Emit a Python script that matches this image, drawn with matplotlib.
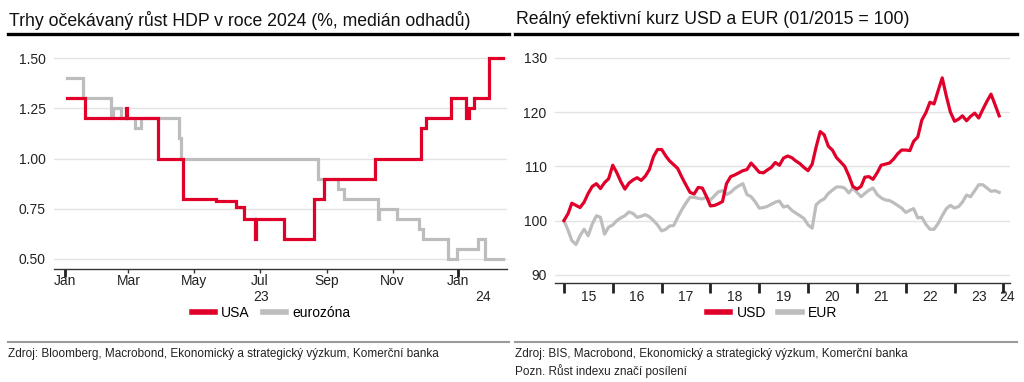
import matplotlib
matplotlib.use("Agg")
import matplotlib.pyplot as plt
import numpy as np
import pandas as pd
from matplotlib.lines import Line2D

plt.rcParams['font.family'] = ['Liberation Sans', 'DejaVu Sans']

RED = '#E0002A'
GRAY = '#BDBDBD'

# ---------------- Left chart data (step changes) ----------------
usa_dates = ['2023-01-03', '2023-01-20', '2023-02-27', '2023-02-28', '2023-03-28',
             '2023-04-21', '2023-05-21', '2023-06-09', '2023-06-16', '2023-06-26',
             '2023-06-27', '2023-07-23', '2023-08-20', '2023-08-29', '2023-10-16',
             '2023-11-27', '2023-12-02', '2023-12-25', '2024-01-08', '2024-01-11',
             '2024-01-15', '2024-01-29', '2024-02-11']
usa_values = [1.30, 1.20, 1.25, 1.20, 1.00,
              0.80, 0.79, 0.76, 0.70, 0.60,
              0.70, 0.60, 0.80, 0.90, 1.00,
              1.15, 1.20, 1.30, 1.20, 1.25,
              1.30, 1.50, 1.50]

ez_dates = ['2023-01-03', '2023-01-18', '2023-02-13', '2023-02-15', '2023-02-22',
            '2023-03-07', '2023-03-13', '2023-04-17', '2023-04-19', '2023-08-24',
            '2023-09-11', '2023-09-17', '2023-10-18', '2023-10-19', '2023-11-05',
            '2023-11-25', '2023-11-29', '2023-12-22', '2023-12-31', '2024-01-19',
            '2024-01-26', '2024-02-11']
ez_values = [1.40, 1.30, 1.20, 1.25, 1.20,
             1.15, 1.20, 1.10, 1.00, 0.90,
             0.85, 0.80, 0.70, 0.75, 0.70,
             0.65, 0.60, 0.50, 0.55, 0.60,
             0.50, 0.50]

left_yticks = [0.50, 0.75, 1.00, 1.25, 1.50]
left_month_ticks = ['2023-01-01', '2023-03-01', '2023-05-01', '2023-07-01',
                    '2023-09-01', '2023-11-01', '2024-01-01']
left_month_labels = ['Jan', 'Mar', 'May', 'Jul', 'Sep', 'Nov', 'Jan']
left_years = [2023, 2024]
left_year_labels = ['23', '24']

# ---------------- Right chart data (monthly, Jan 2015 - Dec 2023) ----------------
usd = [100.0, 101.3, 103.2, 102.8, 102.4, 103.4, 105.0, 106.3, 106.8, 105.9, 107.0, 107.7,
       110.2, 108.8, 107.2, 105.8, 106.9, 107.5, 107.9, 107.4, 108.2, 109.4, 111.8, 113.1,
       113.1, 111.9, 111.0, 110.3, 109.6, 108.0, 106.6, 105.2, 104.9, 106.1, 106.0, 104.5,
       102.7, 102.8, 103.1, 103.5, 106.8, 108.1, 108.4, 108.8, 109.2, 109.4, 110.6, 109.8,
       108.9, 108.8, 109.3, 109.8, 110.7, 110.2, 111.5, 111.9, 111.6, 111.0, 110.5, 109.8,
       109.2, 110.4, 113.5, 116.4, 115.8, 113.7, 113.0, 111.6, 110.8, 110.0, 108.3, 106.3,
       105.8, 106.3, 108.0, 108.1, 107.6, 108.8, 110.2, 110.4, 110.6, 111.3, 112.3, 113.0,
       113.0, 112.9, 114.6, 115.4, 118.5, 119.9, 121.8, 121.5, 124.0, 126.3, 122.9, 120.0,
       118.3, 118.7, 119.3, 118.4, 119.2, 119.8, 118.9, 120.5, 122.0, 123.3, 121.3, 119.3]
eur = [100.0, 98.2, 96.3, 95.6, 97.2, 98.4, 97.2, 99.4, 100.9, 100.6, 97.5, 98.8,
       99.2, 100.0, 100.5, 100.9, 101.6, 101.3, 100.6, 100.8, 101.1, 100.7, 100.0, 99.2,
       98.1, 98.4, 99.0, 99.1, 100.6, 102.0, 103.2, 104.3, 104.3, 104.1, 104.0, 104.3,
       103.8, 104.6, 105.3, 105.5, 104.8, 105.2, 105.9, 106.4, 106.8, 104.8, 104.4, 103.5,
       102.3, 102.4, 102.6, 103.0, 103.4, 103.6, 102.5, 102.7, 101.9, 101.4, 100.9, 100.4,
       99.2, 98.6, 102.9, 103.6, 104.0, 105.0, 105.6, 106.2, 106.2, 106.0, 105.1, 106.0,
       105.2, 104.4, 105.0, 105.6, 106.0, 104.8, 104.2, 103.8, 103.7, 103.3, 102.8, 102.3,
       101.5, 101.9, 102.2, 100.5, 100.6, 99.3, 98.4, 98.4, 99.5, 100.9, 102.2, 102.8,
       102.3, 102.6, 103.4, 104.7, 104.4, 105.5, 106.6, 106.6, 106.0, 105.4, 105.5, 105.2]
right_start = '2015-01-01'
right_yticks = [90, 100, 110, 120, 130]
right_years = list(range(2015, 2025))
right_year_labels = ['15', '16', '17', '18', '19', '20', '21', '22', '23', '24']

# ---------------- Figure ----------------
fig = plt.figure(figsize=(10.24, 3.82), dpi=100)
W, H = 1024, 382

def fx(px):
    return px / W

def fy(py):
    return 1 - py / H

TICK_FS = 10
TXT = '#222222'

# Titles
fig.text(fx(9), fy(20), 'Trhy očekávaný růst HDP v roce 2024 (%, medián odhadů)',
         fontsize=12.7, va='center', ha='left', color='#111111')
fig.text(fx(516), fy(20), 'Reálný efektivní kurz USD a EUR (01/2015 = 100)',
         fontsize=12.7, va='center', ha='left', color='#111111')
# title rules and footer rules
fig.add_artist(Line2D([fx(8), fx(509)], [fy(34), fy(34)], color='black', lw=2.4))
fig.add_artist(Line2D([fx(515), fx(1017)], [fy(34), fy(34)], color='black', lw=2.4))
fig.add_artist(Line2D([fx(8), fx(509)], [fy(342), fy(342)], color='#9a9a9a', lw=1.5))
fig.add_artist(Line2D([fx(515), fx(1017)], [fy(342), fy(342)], color='#9a9a9a', lw=1.5))

fig.text(fx(8), fy(354), 'Zdroj: Bloomberg, Macrobond, Ekonomický a strategický výzkum, Komerční banka',
         fontsize=8.5, va='center', ha='left', color=TXT)
fig.text(fx(515), fy(354), 'Zdroj: BIS, Macrobond, Ekonomický a strategický výzkum, Komerční banka',
         fontsize=8.5, va='center', ha='left', color=TXT)
fig.text(fx(515), fy(371), 'Pozn. Růst indexu značí posílení',
         fontsize=8.5, va='center', ha='left', color=TXT)

def style_axes(ax):
    for s in ['left', 'right', 'top']:
        ax.spines[s].set_visible(False)
    ax.spines['bottom'].set_color('#333333')
    ax.spines['bottom'].set_linewidth(1.0)
    ax.grid(axis='y', color='#e3e3e3', lw=1.0)
    ax.set_axisbelow(True)
    ax.tick_params(axis='y', length=0, labelsize=TICK_FS, colors=TXT, pad=6)

# ---------------- Left axes ----------------
axL = fig.add_axes([fx(54), fy(269), fx(507 - 54), (269 - 48) / H])
style_axes(axL)
ud = pd.to_datetime(usa_dates)
ed = pd.to_datetime(ez_dates)
axL.plot(ed, ez_values, color=GRAY, lw=2.3, drawstyle='steps-post', solid_joinstyle='miter')
axL.plot(ud, usa_values, color=RED, lw=2.3, drawstyle='steps-post', solid_joinstyle='miter')
axL.set_ylim(0.45, 1.55)
axL.set_yticks(left_yticks)
axL.set_yticklabels([f'{v:.2f}' for v in left_yticks])
xl0, xl1 = pd.Timestamp('2022-12-22'), pd.Timestamp('2024-02-15')
axL.set_xlim(xl0, xl1)
axL.set_xticks(pd.to_datetime(left_month_ticks))
axL.set_xticklabels(left_month_labels)
axL.xaxis.remove_overlapping_locs = False
axL.set_xticks(pd.to_datetime([f'{y}-01-01' for y in left_years]), minor=True)
axL.tick_params(axis='x', which='major', length=3, width=1, colors='#333333',
                labelcolor=TXT, labelsize=TICK_FS, pad=0.5)
axL.tick_params(axis='x', which='minor', length=6, width=2, colors='#222222')
for y, lab in zip(left_years, left_year_labels):
    a = pd.Timestamp(f'{y}-01-01')
    b = min(pd.Timestamp(f'{y}-12-31'), xl1)
    mid = a + (b - a) / 2
    axL.text(mid, -0.128, lab, transform=axL.get_xaxis_transform(), ha='center',
             va='center', fontsize=TICK_FS, color=TXT)

hL = [Line2D([], [], color=RED, lw=4), Line2D([], [], color=GRAY, lw=4)]
fig.legend(hL, ['USA', 'eurozóna'], loc='center', bbox_to_anchor=(fx(271), fy(313)),
           ncol=2, frameon=False, fontsize=10, handlelength=1.7, handletextpad=0.45,
           columnspacing=0.9, borderaxespad=0)

# ---------------- Right axes ----------------
axR = fig.add_axes([fx(555), fy(283), fx(1010 - 555), (283 - 48) / H])
style_axes(axR)
rd = pd.date_range(right_start, periods=len(usd), freq='MS')
axR.plot(rd, eur, color=GRAY, lw=2.3)
axR.plot(rd, usd, color=RED, lw=2.3)
axR.set_ylim(88.5, 131.8)
axR.set_yticks(right_yticks)
axR.set_yticklabels([str(v) for v in right_yticks])
xr0, xr1 = pd.Timestamp('2014-10-26'), pd.Timestamp('2024-02-20')
axR.set_xlim(xr0, xr1)
axR.set_xticks(pd.to_datetime([f'{y}-01-01' for y in right_years]))
axR.set_xticklabels([])
mids = []
for y in right_years:
    a = pd.Timestamp(f'{y}-01-01')
    b = min(pd.Timestamp(f'{y}-12-31'), xr1)
    mids.append(a + (b - a) / 2)
axR.set_xticks(mids, minor=True)
axR.set_xticklabels(right_year_labels, minor=True)
axR.tick_params(axis='x', which='major', length=7, width=2, colors='#222222')
axR.tick_params(axis='x', which='minor', length=0, labelsize=TICK_FS, labelcolor=TXT, pad=5)

hR = [Line2D([], [], color=RED, lw=4), Line2D([], [], color=GRAY, lw=4)]
fig.legend(hR, ['USD', 'EUR'], loc='center', bbox_to_anchor=(fx(772), fy(313)),
           ncol=2, frameon=False, fontsize=10, handlelength=1.7, handletextpad=0.45,
           columnspacing=0.9, borderaxespad=0)

fig.savefig('out.png', dpi=100)
